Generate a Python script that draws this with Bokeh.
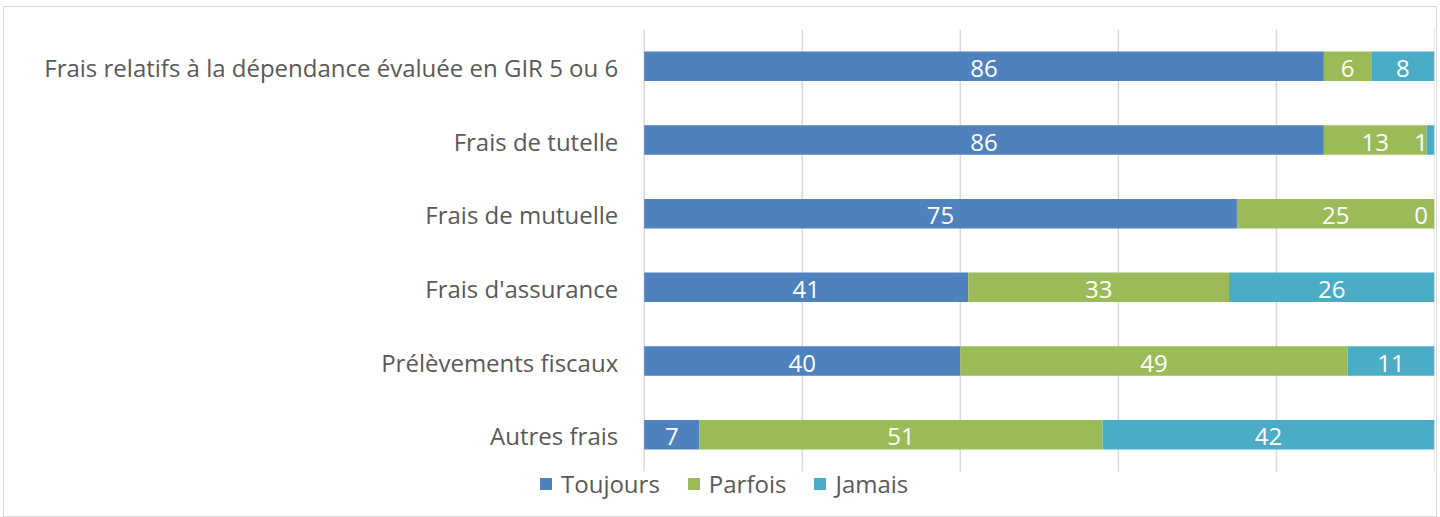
from bokeh.plotting import figure
from bokeh.models import FixedTicker, Legend, LegendItem, ColumnDataSource, Range1d
from bokeh.core.properties import value
from bokeh.embed import file_html
from bokeh.resources import INLINE

categories = [
    "Frais relatifs à la dépendance évaluée en GIR 5 ou 6",
    "Frais de tutelle",
    "Frais de mutuelle",
    "Frais d'assurance",
    "Prélèvements fiscaux",
    "Autres frais",
]
series = ["Toujours", "Parfois", "Jamais"]
toujours = [86, 86, 75, 41, 40, 7]
parfois = [6, 13, 25, 33, 49, 51]
jamais = [8, 1, 0, 26, 11, 42]
colors = ["#4F81BD", "#9BBB59", "#4BACC6"]
x_ticks = [0, 20, 40, 60, 80, 100]

FONT = "Open Sans"
GREY = "#595959"
FS = "24px"

n = len(categories)
ypos = [n - 1 - i for i in range(n)]  # top category first

data = {"y": ypos, "cat": categories, "Toujours": toujours, "Parfois": parfois, "Jamais": jamais}
src = ColumnDataSource(data)

p = figure(
    width=1434, height=511,
    x_range=Range1d(-80.95, 100),
    y_range=Range1d(-1.138, n - 0.5),
    output_backend="svg", toolbar_location=None,
    min_border_left=0, min_border_right=4, min_border_top=22, min_border_bottom=0,
)
p.margin = (6, 3, 0, 3)
p.styles = {"border": "1px solid #d9d9d9", "box-sizing": "border-box"}
p.outline_line_color = None
p.background_fill_color = "white"
p.xaxis.visible = False
p.yaxis.visible = False
p.grid.visible = False

# vertical gridlines over the bar area
p.segment(x0=x_ticks, y0=[-0.5] * len(x_ticks), x1=x_ticks, y1=[n - 0.5] * len(x_ticks),
          line_color="#d9d9d9", line_width=1.5)

renderers = p.hbar_stack(series, y="y", height=0.4, color=colors, source=src, line_width=0)

# category labels
p.text(x=[0] * n, y=ypos, text=categories, x_offset=-26, text_align="right",
       text_baseline="middle", text_font=value(FONT), text_font_size=FS, text_color=GREY,
       y_offset=1)

# data labels
lx, ly, lt = [], [], []
for i in range(n):
    left = 0
    for vals in (toujours, parfois, jamais):
        v = vals[i]
        c = min(left + v / 2, 98.3)
        lx.append(c)
        ly.append(ypos[i])
        lt.append(str(v))
        left += v
p.text(x=lx, y=ly, text=lt, text_color="white", text_font=value(FONT),
       text_font_size=FS, text_align="center", text_baseline="middle",
       y_offset=2)

legend = Legend(
    items=[LegendItem(label=s, renderers=[r]) for s, r in zip(series, renderers)],
    orientation="horizontal",
    location=(534, 18),
    label_text_font=FONT, label_text_font_size=FS, label_text_color=GREY,
    label_height=26,
    glyph_width=15, glyph_height=15, label_standoff=8, spacing=26,
    padding=0, margin=0, border_line_color=None, background_fill_alpha=0,
)
p.add_layout(legend, "center")

open("out.html", "w").write(file_html(p, INLINE))
